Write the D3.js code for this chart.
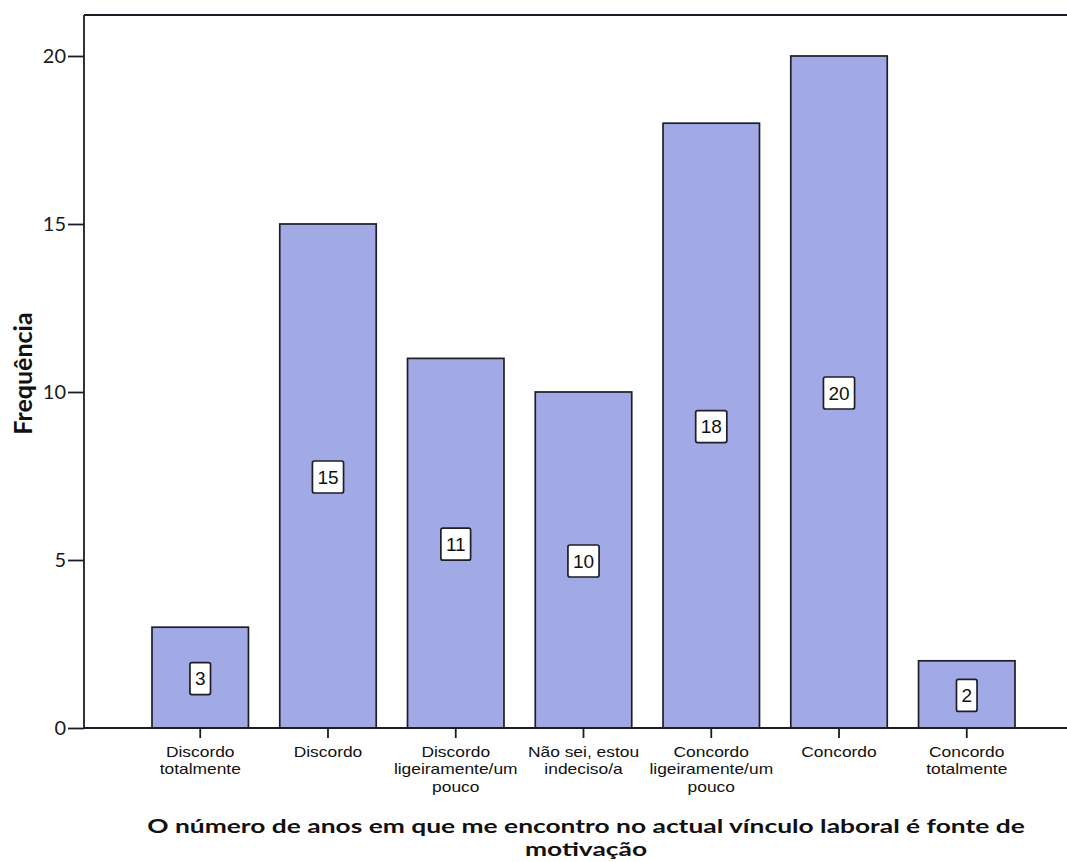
<!DOCTYPE html>
<html>
<head>
<meta charset="utf-8">
<script src="https://cdn.jsdelivr.net/npm/d3@7"></script>
<style>
  html, body { margin: 0; padding: 0; background: #fff; }
  svg { display: block; }
</style>
</head>
<body>
<svg id="chart" width="1067" height="862"></svg>
<script>
// Response categories (x axis), each split into display lines
const categories = [
  ["Discordo", "totalmente"],
  ["Discordo"],
  ["Discordo", "ligeiramente/um", "pouco"],
  ["Não sei, estou", "indeciso/a"],
  ["Concordo", "ligeiramente/um", "pouco"],
  ["Concordo"],
  ["Concordo", "totalmente"]
];
// Frequency of each response
const frequencies = [3, 15, 11, 10, 18, 20, 2];
// Y axis ticks
const yTicks = [0, 5, 10, 15, 20];
const yTitle = "Frequência";
const xTitleLines = [
  "O número de anos em que me encontro no actual vínculo laboral é fonte de",
  "motivação"
];

const svg = d3.select("#chart");
const W = 1067;
const plotLeft = 84, plotTop = 15, plotBottom = 728;

const keys = categories.map((c, i) => i);
const x = d3.scaleBand().domain(keys).range([152, 1015]).paddingInner(0.245).paddingOuter(0);
const y = d3.scaleLinear().domain([0, 21.22]).range([plotBottom, plotTop]);

const sansCal = "Lato, 'Open Sans', sans-serif";
const sansArial = "'Liberation Sans', Arial, sans-serif";
const ink = "#1c1c28";

// frame: top line
svg.append("line").attr("x1", plotLeft).attr("x2", W).attr("y1", plotTop).attr("y2", plotTop)
  .attr("stroke", ink).attr("stroke-width", 1.8);

// bars
svg.append("g").selectAll("rect").data(frequencies).join("rect")
  .attr("x", (d, i) => x(i))
  .attr("y", d => y(d))
  .attr("width", x.bandwidth())
  .attr("height", d => y(0) - y(d))
  .attr("fill", "#a2aae6")
  .attr("stroke", "#1e1e2a")
  .attr("stroke-width", 1.7);

// y axis
const yAxis = d3.axisLeft(y).tickValues(yTicks).tickSize(16).tickPadding(2).tickFormat(d3.format("d"));
const gy = svg.append("g").attr("transform", `translate(${plotLeft},0)`).call(yAxis);
gy.select(".domain").attr("d", `M0,${plotTop}V${plotBottom}`).attr("stroke", ink).attr("stroke-width", 1.8);
gy.selectAll(".tick line").attr("stroke", ink).attr("stroke-width", 1.8);
gy.selectAll(".tick text").attr("font-family", sansCal).attr("font-size", 20).attr("fill", "#1a1a1a");

// x axis with multi-line category labels (slightly wide-set type)
const xAxis = d3.axisBottom(x).tickSize(10).tickFormat("");
const gx = svg.append("g").attr("transform", `translate(0,${plotBottom})`).call(xAxis);
gx.select(".domain").attr("d", `M${plotLeft},0H${W}`).attr("stroke", ink).attr("stroke-width", 1.8);
gx.selectAll(".tick line").attr("stroke", ink).attr("stroke-width", 1.8);
gx.selectAll(".tick").each(function(d) {
  const t = d3.select(this).select("text");
  t.text(null).attr("y", 0).attr("dy", null)
    .attr("transform", "scale(1.16,1)")
    .attr("font-family", sansArial).attr("font-size", 15).attr("fill", "#111");
  categories[d].forEach((line, k) => {
    t.append("tspan").attr("x", 0).attr("y", 29 + k * 17.5).text(line);
  });
});

// value labels at mid-bar
const lab = svg.append("g").selectAll("g").data(frequencies).join("g")
  .attr("transform", (d, i) => `translate(${x(i) + x.bandwidth() / 2},${y(d / 2) + 1})`);
lab.append("text")
  .attr("text-anchor", "middle").attr("dy", "0.36em")
  .attr("font-family", sansArial).attr("font-size", 19).attr("fill", "#111")
  .text(d => d);
lab.each(function() {
  const g = d3.select(this);
  const bb = g.select("text").node().getBBox();
  g.insert("rect", "text")
    .attr("x", -bb.width / 2 - 5).attr("y", -16)
    .attr("width", bb.width + 10).attr("height", 32)
    .attr("rx", 2)
    .attr("fill", "#fff").attr("stroke", "#1e1e2a").attr("stroke-width", 1.7);
});

// axis titles
svg.append("text")
  .attr("transform", `translate(32,${(plotTop + plotBottom) / 2 + 2}) rotate(-90)`)
  .attr("text-anchor", "middle")
  .attr("font-family", sansCal).attr("font-weight", "bold").attr("font-size", 25).attr("fill", "#111")
  .text(yTitle);

const titleG = svg.append("g");
titleG.selectAll("text").data(xTitleLines).join("text")
  .attr("x", 0).attr("y", (d, i) => 833 + i * 23)
  .attr("text-anchor", "middle")
  .attr("font-family", sansCal).attr("font-weight", "bold").attr("font-size", 19).attr("fill", "#111")
  .text(d => d);
// stretch the title horizontally so its first line spans the plot
const firstLen = titleG.select("text").node().getComputedTextLength();
titleG.attr("transform", `translate(586,0) scale(${878 / firstLen},1)`);
</script>
</body>
</html>
